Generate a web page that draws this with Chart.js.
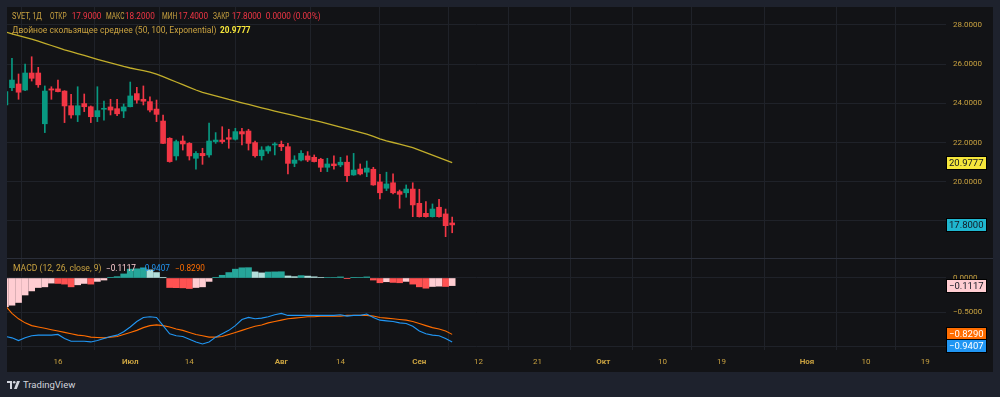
<!DOCTYPE html>
<html><head><meta charset="utf-8">
<script src="https://cdn.jsdelivr.net/npm/chart.js@4.4.1/dist/chart.umd.min.js"></script>
<style>
html,body{margin:0;padding:0;background:#1e222d;width:1000px;height:397px;overflow:hidden;font-family:Roboto,"Noto Sans",sans-serif;}
#frame{position:absolute;left:7px;top:7px;width:986px;height:365px;background:#121316;}
#main{position:absolute;left:7px;top:7px;width:986px;height:251px;}
#macd{position:absolute;left:7px;top:259px;width:986px;height:113px;}
#sep{position:absolute;left:7px;top:258px;width:986px;height:1px;background:#2a2e39;}
.lg{position:absolute;font-size:8.2px;white-space:pre;line-height:10px;color:#c9a240;transform-origin:0 0;}
#foot{position:absolute;left:23px;top:379px;font-size:9.5px;color:#d1d4dc;line-height:12px;}
</style></head>
<body>
<div id="frame"></div>
<canvas id="main" width="986" height="251"></canvas>
<div id="sep"></div>
<canvas id="macd" width="986" height="113"></canvas>
<div id="legend"></div>
<svg style="position:absolute;left:7px;top:380px" width="14" height="10" viewBox="0 0 14 10">
  <path d="M0 1h5v8H3V3H0z" fill="#d1d4dc"/><circle cx="7.2" cy="2.2" r="1.3" fill="#d1d4dc"/><path d="M10 1h3l-3.2 8H7z" fill="#d1d4dc"/>
</svg>
<div id="foot">TradingView</div>
<script>
// ---------- data ----------
const ticker = 'SVET, 1Д';
const opens  = [23.92,24.80,24.99,24.68,25.55,25.55,22.96,24.74,24.74,24.63,23.88,23.41,23.99,23.83,23.32,23.70,23.82,23.73,23.61,23.83,24.50,24.21,24.09,23.71,23.10,22.22,21.32,22.08,21.96,21.20,21.45,21.37,22.05,22.13,22.25,22.17,22.56,22.59,22.00,21.33,21.57,21.88,21.91,21.79,20.94,21.11,21.32,21.25,21.15,20.74,20.91,20.86,21.00,20.35,20.65,20.49,20.64,19.99,19.67,19.95,19.50,19.44,19.63,18.90,18.39,18.22,18.70,18.36,17.90];
const highs  = [24.75,26.30,25.50,26.00,26.38,25.84,24.89,24.85,25.19,24.65,24.46,24.85,24.48,23.87,24.85,24.12,24.21,24.21,23.97,25.09,24.82,24.89,24.34,24.17,23.41,22.25,22.13,22.34,22.00,21.54,21.71,22.99,22.51,22.81,22.68,22.73,22.73,22.68,22.08,21.79,21.83,22.00,22.08,21.96,21.33,21.59,21.54,21.37,21.20,21.20,21.32,21.25,21.32,21.45,20.91,21.06,20.74,20.38,20.49,20.40,19.58,19.84,19.95,19.62,18.99,18.87,19.11,18.61,18.20];
const lows   = [23.80,24.65,24.21,24.65,25.14,24.82,22.51,24.21,24.58,23.02,23.24,23.07,23.58,23.02,23.07,23.15,23.41,23.37,23.27,23.82,24.01,23.92,23.56,23.07,21.95,21.00,21.11,21.62,21.11,20.64,20.89,21.25,21.96,21.96,21.71,22.13,21.88,21.62,21.25,21.11,21.45,21.37,21.59,20.40,20.77,21.06,21.03,21.01,20.52,20.52,20.64,20.77,20.01,20.33,20.35,20.26,19.82,19.12,19.55,19.38,18.65,19.21,18.22,18.20,18.20,18.20,18.20,17.20,17.40];
const closes = [24.60,25.19,24.57,25.55,25.28,24.95,24.63,24.68,24.60,23.87,23.41,23.88,23.83,23.32,23.63,23.75,23.66,23.47,23.82,24.38,24.17,24.11,23.66,23.44,21.96,21.03,22.05,21.93,21.32,21.45,21.33,22.08,22.13,22.05,22.17,22.56,22.44,21.96,21.33,21.62,21.79,21.91,21.79,20.94,21.11,21.45,21.11,21.03,20.74,20.91,20.82,21.00,20.31,20.60,20.40,20.70,19.84,19.44,19.89,19.44,19.36,19.63,18.82,18.22,18.22,18.61,18.22,17.76,17.80];
const maVals = [27.643,27.551,27.459,27.367,27.276,27.173,27.061,26.954,26.842,26.735,26.638,26.541,26.444,26.347,26.250,26.158,26.071,25.980,25.888,25.806,25.740,25.668,25.597,25.495,25.362,25.224,25.092,24.954,24.816,24.684,24.561,24.469,24.383,24.291,24.199,24.117,24.031,23.944,23.857,23.770,23.689,23.607,23.531,23.449,23.372,23.291,23.214,23.138,23.056,22.969,22.878,22.786,22.699,22.607,22.520,22.429,22.321,22.194,22.087,22.005,21.923,21.837,21.740,21.612,21.490,21.362,21.235,21.107,20.9777];
const macdVals = [-0.86,-0.88,-0.92,-0.88,-0.85,-0.84,-0.84,-0.84,-0.83,-0.89,-0.93,-0.93,-0.93,-0.94,-0.92,-0.89,-0.86,-0.84,-0.79,-0.72,-0.64,-0.58,-0.57,-0.58,-0.70,-0.82,-0.85,-0.86,-0.90,-0.94,-0.97,-0.94,-0.87,-0.82,-0.77,-0.70,-0.61,-0.58,-0.60,-0.59,-0.57,-0.54,-0.52,-0.55,-0.55,-0.55,-0.55,-0.55,-0.55,-0.55,-0.55,-0.54,-0.56,-0.55,-0.55,-0.53,-0.58,-0.62,-0.63,-0.64,-0.66,-0.67,-0.71,-0.78,-0.82,-0.84,-0.85,-0.89,-0.9407];
const signalVals = [-0.41,-0.52,-0.60,-0.66,-0.70,-0.72,-0.74,-0.76,-0.78,-0.80,-0.82,-0.84,-0.85,-0.87,-0.875,-0.88,-0.87,-0.86,-0.83,-0.80,-0.77,-0.73,-0.70,-0.69,-0.70,-0.72,-0.75,-0.77,-0.80,-0.83,-0.85,-0.87,-0.87,-0.86,-0.83,-0.80,-0.77,-0.74,-0.71,-0.69,-0.66,-0.64,-0.62,-0.60,-0.59,-0.58,-0.57,-0.57,-0.56,-0.56,-0.56,-0.56,-0.55,-0.55,-0.55,-0.55,-0.56,-0.58,-0.59,-0.60,-0.61,-0.62,-0.64,-0.67,-0.70,-0.73,-0.75,-0.78,-0.829];
const histVals = [-0.42,-0.40,-0.36,-0.25,-0.19,-0.14,-0.13,-0.075,-0.08,-0.09,-0.13,-0.10,-0.08,-0.09,-0.05,-0.03,0.01,0.02,0.06,0.13,0.135,0.15,0.12,0.08,0.004,-0.14,-0.142,-0.145,-0.155,-0.14,-0.13,-0.05,0.01,0.04,0.08,0.13,0.15,0.152,0.09,0.075,0.088,0.09,0.092,0.03,0.02,0.035,0.028,0.018,0.006,0.007,0.008,0.016,-0.01,0.005,0.006,0.016,-0.03,-0.07,-0.055,-0.065,-0.07,-0.05,-0.09,-0.13,-0.15,-0.125,-0.12,-0.125,-0.1117];
const timeTickPos = [8,19,28,42,51,63,72,81,91,100,109,122,131,140];
const timeTickLabels = ['16','Июл','14','Авг','14','Сен','12','21','Окт','10','19','Ноя','10','19'];
const priceTicks = [18,20,22,24,26,28];
const macdTicks = [0,-0.5,-1];

// ---------- style / layout ----------
const X_MIN = 0.2435, X_MAX = 143.16;
const GRID = '#1f2229';
const TXT = '#c9a240';
const UP = '#089981', DOWN = '#f23645';
const FONT = 'Roboto';
const fmt = v => (v < 0 ? '\u2212' : '') + Math.abs(v).toFixed(4);

function xScale(showLabels) {
  return {
    type: 'linear', min: X_MIN, max: X_MAX, offset: false,
    afterBuildTicks: s => { s.ticks = timeTickPos.map(v => ({ value: v })); },
    afterFit: s => { s.height = showLabels ? 22 : 0; s.paddingLeft = 0; s.paddingRight = 0; },
    grid: { color: GRID, drawTicks: false, lineWidth: 1 },
    border: { display: false },
    ticks: {
      display: showLabels, autoSkip: false, maxRotation: 0, minRotation: 0, padding: 7, color: TXT,
      font: ctx => ({ family: FONT, size: 8, weight: isNaN(Number(timeTickLabels[ctx.index])) ? 'bold' : 'normal' }),
      callback: (v, i) => timeTickLabels[i]
    }
  };
}
function yScale(min, max, ticks) {
  return {
    position: 'right', min, max,
    afterBuildTicks: s => { s.ticks = ticks.map(v => ({ value: v })); },
    afterFit: s => { s.width = 47; s.paddingTop = 0; s.paddingBottom = 0; },
    grid: { color: GRID, drawTicks: false, lineWidth: 1 },
    border: { display: false },
    ticks: { padding: 7, color: TXT, font: { family: FONT, size: 8 }, callback: v => fmt(v) }
  };
}
function boxPlugin(items) {
  return {
    id: 'boxes',
    afterDraw(chart) {
      const ctx = chart.ctx, ys = chart.scales.y;
      const arr = items.map(it => ({ ...it, py: ys.getPixelForValue(it.value) })).sort((a, b) => a.py - b.py);
      for (let i = 1; i < arr.length; i++) if (arr[i].py < arr[i - 1].py + 12) arr[i].py = arr[i - 1].py + 12;
      ctx.save();
      ctx.font = '9.5px ' + FONT;
      ctx.textBaseline = 'middle';
      const x = chart.chartArea.right + 1, w = 39, h = 12;
      arr.forEach(it => {
        ctx.fillStyle = '#000';
        ctx.fillRect(x - 1, Math.round(it.py - h / 2) - 1, w + 2, h + 2);
        ctx.fillStyle = it.bg;
        ctx.fillRect(x, Math.round(it.py - h / 2), w, h);
        ctx.fillStyle = it.fg;
        ctx.fillText(fmt(it.value), x + 2, Math.round(it.py) + 0.5);
      });
      ctx.restore();
    }
  };
}
const idx = opens.map((_, i) => i);
const candleColors = idx.map(i => closes[i] >= opens[i] ? UP : DOWN);
const common = {
  responsive: false, animation: false, devicePixelRatio: 1, events: [],
  layout: { padding: 0, autoPadding: false },
  plugins: { legend: { display: false }, tooltip: { enabled: false } }
};

new Chart(document.getElementById('main'), {
  type: 'bar',
  data: {
    datasets: [
      { type: 'line', data: idx.map(i => ({ x: i, y: maVals[i] })), borderColor: '#c2ae2b', borderWidth: 1.3, pointRadius: 0, tension: 0, order: 0 },
      { type: 'bar', data: idx.map(i => ({ x: i, y: [opens[i], closes[i]] })), backgroundColor: candleColors, barThickness: 5, minBarLength: 1, grouped: false, borderWidth: 0, order: 1 },
      { type: 'bar', data: idx.map(i => ({ x: i, y: [lows[i], highs[i]] })), backgroundColor: candleColors, barThickness: 1, grouped: false, borderWidth: 0, order: 2 }
    ]
  },
  options: { ...common, scales: { x: xScale(false), y: yScale(16.112, 28.918, priceTicks) } },
  plugins: [boxPlugin([
    { value: maVals[maVals.length - 1], bg: '#f5e63b', fg: '#131722' },
    { value: closes[closes.length - 1], bg: '#1fb6cf', fg: '#131722' }
  ])]
});

const histColors = histVals.map((v, i) => {
  const p = i > 0 ? histVals[i - 1] : v;
  if (v >= 0) return v >= p ? '#26a69a' : '#b2dfdb';
  return v >= p ? '#ffcdd2' : '#ff5252';
});
new Chart(document.getElementById('macd'), {
  type: 'bar',
  data: {
    datasets: [
      { type: 'line', data: idx.map(i => ({ x: i, y: macdVals[i] })), borderColor: '#2196f3', borderWidth: 1.1, pointRadius: 0, tension: 0, order: 0 },
      { type: 'line', data: idx.map(i => ({ x: i, y: signalVals[i] })), borderColor: '#ff6d00', borderWidth: 1.1, pointRadius: 0, tension: 0, order: 1 },
      { type: 'bar', data: idx.map(i => ({ x: i, y: histVals[i] })), backgroundColor: histColors, barThickness: 6, grouped: false, borderWidth: 0, order: 2 }
    ]
  },
  options: { ...common, scales: { x: xScale(true), y: yScale(-1.0588, 0.2794, macdTicks) } },
  plugins: [boxPlugin([
    { value: histVals[histVals.length - 1], bg: '#ffcdd2', fg: '#131722' },
    { value: signalVals[signalVals.length - 1], bg: '#ff6d00', fg: '#ffffff' },
    { value: macdVals[macdVals.length - 1], bg: '#2196f3', fg: '#ffffff' }
  ])]
});

// ---------- legends (real text) ----------
const L = opens.length - 1;
// [x, y, text, colour key, horizontal squeeze]
const legendItems = [
  [12, 11, ticker, '', 0.9], [50, 11, 'ОТКР', '', 0.8], [71.7, 11, opens[L].toFixed(4), 'rd', 1],
  [106, 11, 'МАКС', '', 0.8], [125, 11, highs[L].toFixed(4), 'rd', 1],
  [161.7, 11, 'МИН', '', 0.8], [178.3, 11, lows[L].toFixed(4), 'rd', 1],
  [213.3, 11, 'ЗАКР', '', 0.8], [231.7, 11, closes[L].toFixed(4), 'rd', 1],
  [265.7, 11, '0.0000 (0.00%)', 'rd', 1],
  [12, 24.7, 'Двойное скользящее среднее (50, 100, Exponential)', '', 1.04],
  [220, 24.7, maVals[L].toFixed(4), 'ma', 1],
  [12.7, 263, 'MACD (12, 26, close, 9)', '', 1.05],
  [106, 263, fmt(histVals[L]), 'h', 1], [140, 263, fmt(macdVals[L]), 'm', 1], [175, 263, fmt(signalVals[L]), 's', 1]
];
const colorMap = { rd: '#f23645', ma: '#f5e63b', h: '#ffcdd2', m: '#2196f3', s: '#ff6d00' };
const lg = document.getElementById('legend');
legendItems.forEach(([x, y, t, c, sx]) => {
  const d = document.createElement('div');
  d.className = 'lg';
  d.style.left = x + 'px'; d.style.top = y + 'px';
  if (sx !== 1) d.style.transform = 'scaleX(' + sx + ')';
  if (c) d.style.color = colorMap[c];
  if (c === 'ma') d.style.fontWeight = 'bold';
  d.textContent = t;
  lg.appendChild(d);
});
</script>
</body></html>
